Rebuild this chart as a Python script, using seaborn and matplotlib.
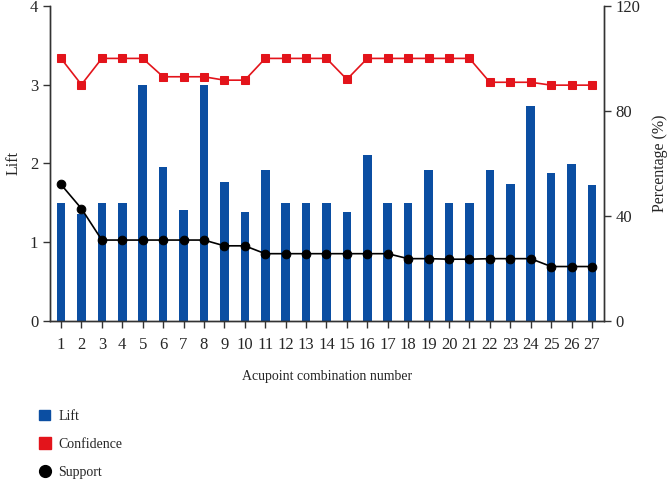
import numpy as np
import pandas as pd
import seaborn as sns
import matplotlib.pyplot as plt
from matplotlib.lines import Line2D
from matplotlib.patches import Patch

combo = list(range(1, 28))
lift = [1.5, 1.35, 1.5, 1.5, 3.0, 1.95, 1.4, 3.0, 1.76, 1.38,
        1.91, 1.5, 1.5, 1.5, 1.38, 2.1, 1.5, 1.5, 1.91, 1.5,
        1.5, 1.91, 1.73, 2.73, 1.88, 1.99, 1.72]
confidence = [100, 90, 100, 100, 100, 93, 93, 93, 91.7, 91.7,
              100, 100, 100, 100, 92, 100, 100, 100, 100, 100,
              100, 90.9, 90.9, 90.9, 89.8, 89.8, 89.8]
support = [51.9, 42.7, 30.7, 30.7, 30.7, 30.7, 30.7, 30.7, 28.5, 28.5,
           25.5, 25.5, 25.5, 25.5, 25.5, 25.5, 25.5, 23.6, 23.6, 23.4,
           23.4, 23.6, 23.6, 23.6, 20.6, 20.6, 20.6]

df = pd.DataFrame({'pos': np.arange(len(combo)), 'combo': combo,
                   'lift': lift, 'confidence': confidence, 'support': support})

blue = '#0b4ea2'
red = '#e3141b'

sns.set_style('ticks')
plt.rcParams['font.family'] = ['Liberation Serif', 'DejaVu Serif']

fig = plt.figure(figsize=(6.7, 4.83), dpi=100)
ax = fig.add_axes([0.0746, 0.3364, 0.8269, 0.6512])

sns.barplot(data=df, x='pos', y='lift', color=blue, width=0.42,
            saturation=1, linewidth=0, ax=ax, zorder=2)
ax.set_ylim(0, 4)
ax.set_yticks([0, 1, 2, 3, 4])
ax.set_xlim(-0.54, 26.59)
ax.set_xticks(df['pos'])
ax.set_xticklabels(combo)
ax.set_xlabel('Acupoint combination number', fontsize=10, labelpad=12)
ax.set_ylabel('Lift', fontsize=11.5, labelpad=6)

ax2 = ax.twinx()
sns.lineplot(x=df['pos'], y=df['confidence'], color=red, marker='s',
             markersize=6, markeredgecolor=red, linewidth=1.2, ax=ax2)
sns.lineplot(x=df['pos'], y=df['support'], color='black', marker='o',
             markersize=6.2, markeredgecolor='black', linewidth=1.2, ax=ax2)
ax2.set_ylim(0, 120)
ax2.set_yticks([0, 40, 80, 120])
ax2.set_ylabel('Percentage (%)', fontsize=11.5, labelpad=8)
ax2.set_xlim(-0.54, 26.59)

for a in (ax, ax2):
    a.spines['top'].set_visible(False)
    a.tick_params(labelsize=12, length=5, width=1, color='#333333')
    for s in a.spines.values():
        s.set_linewidth(1)
        s.set_color('#333333')
ax.tick_params(axis='x', pad=7)
ax2.spines['right'].set_visible(True)

handles = [
    Patch(facecolor=blue, edgecolor=blue),
    Line2D([], [], linestyle='none', marker='s', color=red, markersize=8),
    Line2D([], [], linestyle='none', marker='o', color='black', markersize=8.5),
]
fig.legend(handles, ['Lift', 'Confidence', 'Support'], loc='upper left',
           bbox_to_anchor=(0.04, 0.178), frameon=False, fontsize=10,
           handlelength=0.75, handleheight=0.75, handletextpad=0.6,
           labelspacing=1.1)

fig.savefig('out.png', dpi=100)
